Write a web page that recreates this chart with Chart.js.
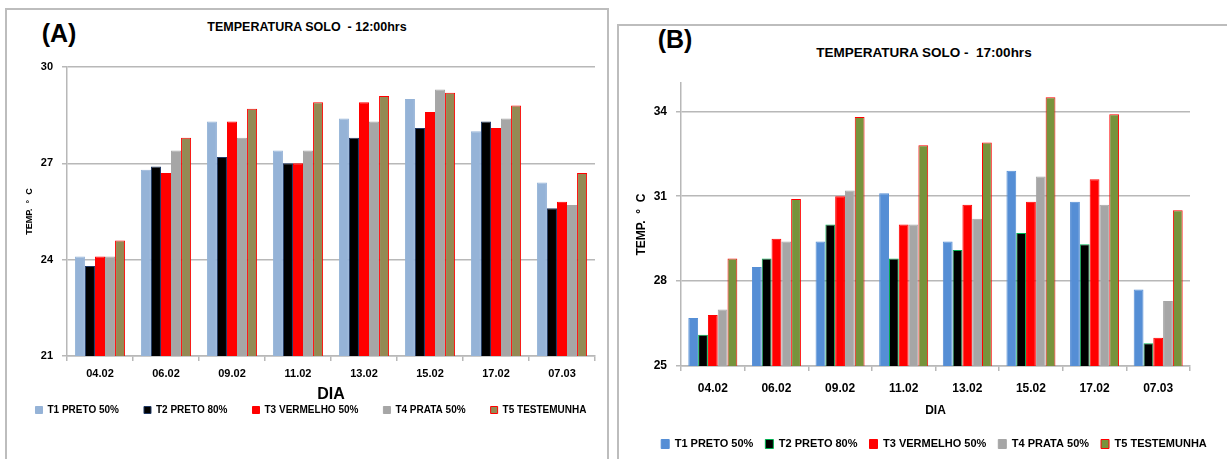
<!DOCTYPE html>
<html>
<head>
<meta charset="utf-8">
<script src="https://cdn.jsdelivr.net/npm/chart.js@4.4.1/dist/chart.umd.min.js"></script>
<style>
  body { margin: 0; width: 1227px; height: 459px; overflow: hidden; background: #fff; position: relative; }
  .panel { position: absolute; box-sizing: border-box; border: 2px solid #bdbdbd; }
  .lbl { position: absolute; font-weight: bold; color: #000; white-space: pre; transform: translate(-50%, -50%); }
  canvas { position: absolute; }
</style>
</head>
<body>
<div class="panel" style="left:5px; top:8px; width:604px; height:470px;"></div>
<div class="panel" style="left:617px; top:24px; width:700px; height:470px;"></div>

<div class="lbl" style="left:59px; top:33px; font:bold 25px 'Liberation Sans';">(A)</div>
<div class="lbl" style="left:307px; top:27px; font:bold 12.5px 'Liberation Sans';">TEMPERATURA SOLO  - 12:00hrs</div>
<div class="lbl" style="left:675px; top:39px; font:bold 25px 'Liberation Sans';">(B)</div>
<div class="lbl" style="left:924px; top:52px; font:bold 13.5px 'Liberation Sans';">TEMPERATURA SOLO -  17:00hrs</div>

<canvas id="chartA" width="620" height="470" style="left:6px; top:9px;"></canvas>
<canvas id="chartB" width="640" height="470" style="left:618px; top:25px;"></canvas>

<script>
// dias de medição
const dias = ["04.02", "06.02", "09.02", "11.02", "13.02", "15.02", "17.02", "07.03"];
const tratamentos = ["T1 PRETO 50%", "T2 PRETO 80%", "T3 VERMELHO 50%", "T4 PRATA 50%", "T5 TESTEMUNHA"];

// (A) 12:00hrs
const t1_12h = [24.1, 26.8, 28.3, 27.4, 28.4, 29.0, 28.0, 26.4];
const t2_12h = [23.8, 26.9, 27.2, 27.0, 27.8, 28.1, 28.3, 25.6];
const t3_12h = [24.1, 26.7, 28.3, 27.0, 28.9, 28.6, 28.1, 25.8];
const t4_12h = [24.1, 27.4, 27.8, 27.4, 28.3, 29.3, 28.4, 25.7];
const t5_12h = [24.6, 27.8, 28.7, 28.9, 29.1, 29.2, 28.8, 26.7];
const ticks_12h = [21, 24, 27, 30];

// (B) 17:00hrs
const t1_17h = [26.7, 28.5, 29.4, 31.1, 29.4, 31.9, 30.8, 27.7];
const t2_17h = [26.1, 28.8, 30.0, 28.8, 29.1, 29.7, 29.3, 25.8];
const t3_17h = [26.8, 29.5, 31.0, 30.0, 30.7, 30.8, 31.6, 26.0];
const t4_17h = [27.0, 29.4, 31.2, 30.0, 30.2, 31.7, 30.7, 27.3];
const t5_17h = [28.8, 30.9, 33.8, 32.8, 32.9, 34.5, 33.9, 30.5];
const ticks_17h = [25, 28, 31, 34];

const gridColor = "#b8b8b8";

function montarGrafico(canvasId, cfg) {
    const datasets = cfg.series.map((valores, i) => ({
        label: tratamentos[i],
        data: valores,
        backgroundColor: cfg.cores[i],
        borderColor: cfg.bordas[i],
        borderWidth: 1,
        barPercentage: 1,
        categoryPercentage: cfg.catPct
    }));

    return new Chart(document.getElementById(canvasId), {
        type: "bar",
        data: { labels: dias, datasets: datasets },
        options: {
            responsive: false,
            animation: false,
            layout: { padding: cfg.padding },
            plugins: {
                title: { display: false },
                tooltip: { enabled: false },
                legend: {
                    position: "bottom",
                    labels: {
                        color: "#000",
                        boxWidth: cfg.box[0],
                        boxHeight: cfg.box[1],
                        padding: cfg.legendPad,
                        font: { family: cfg.font, size: cfg.legendSize, weight: "bold" }
                    }
                }
            },
            scales: {
                x: {
                    grid: { drawOnChartArea: false, tickLength: 5, color: gridColor, lineWidth: 1.5 },
                    border: { color: gridColor, width: 1.5 },
                    ticks: { color: "#000", padding: cfg.xTickPad, font: { family: cfg.font, size: cfg.xTickSize, weight: "bold" } },
                    title: {
                        display: true, text: "DIA", color: "#000",
                        font: { family: cfg.font, size: cfg.diaSize, weight: "bold" },
                        padding: { top: 0, bottom: cfg.diaPad }
                    },
                    afterFit: (s) => { s.height = cfg.xHeight; }
                },
                y: {
                    min: cfg.min, max: cfg.max,
                    grid: { tickLength: 5, color: gridColor, lineWidth: 1.5 },
                    border: { color: gridColor, width: 1.5 },
                    ticks: { color: "#000", padding: 9, font: { family: cfg.font, size: cfg.yTickSize, weight: "bold" } },
                    afterBuildTicks: (axis) => { axis.ticks = cfg.ticks.map(v => ({ value: v })); },
                    title: {
                        display: true, text: "TEMP.  °  C", color: "#000",
                        font: { family: cfg.font, size: cfg.yTitleSize, weight: "bold" },
                        padding: { top: cfg.yTitlePad, bottom: 0 }
                    },
                    afterFit: (s) => { s.width = cfg.yWidth; }
                },
                // eixo vazio só para centrar a legenda como no original
                yR: {
                    position: "right",
                    grid: { display: false },
                    border: { display: false },
                    ticks: { display: false },
                    afterFit: (s) => { s.width = cfg.rightWidth; }
                }
            }
        }
    });
}

/* ===== (A) 12:00hrs ===== */
montarGrafico("chartA", {
    series: [t1_12h, t2_12h, t3_12h, t4_12h, t5_12h],
    cores: ["#95B3D7", "#000000", "#FF0000", "#A6A6A6", "#948A54"],
    bordas: ["#95B3D7", "#1F3864", "#FF0000", "#A6A6A6", "#FF0000"],
    catPct: 0.76,
    font: "'Liberation Sans', Arial, sans-serif",
    padding: { left: 0, right: 10, top: 58, bottom: 54 },
    box: [7, 7], legendPad: 25, legendSize: 10,
    xTickPad: 6, xTickSize: 11, diaSize: 16, diaPad: -24.6, xHeight: 24,
    min: 21, max: 30, ticks: ticks_12h, yTickSize: 11,
    yTitleSize: 9, yTitlePad: 18.6, yWidth: 61, rightWidth: 21
});

/* ===== (B) 17:00hrs ===== */
montarGrafico("chartB", {
    series: [t1_17h, t2_17h, t3_17h, t4_17h, t5_17h],
    cores: ["#558ED5", "#000000", "#FF0000", "#A6A6A6", "#77933C"],
    bordas: ["#558ED5", "#00B050", "#FF0000", "#A6A6A6", "#FF0000"],
    catPct: 0.77,
    font: "'Liberation Sans', Arial, sans-serif",
    padding: { left: 0, right: 8, top: 58, bottom: 35.5 },
    box: [8, 9], legendPad: 12, legendSize: 11,
    xTickPad: 10.4, xTickSize: 12, diaSize: 12, diaPad: 8.3, xHeight: 60.5,
    min: 25, max: 35, ticks: ticks_17h, yTickSize: 12,
    yTitleSize: 12, yTitlePad: 16.8, yWidth: 63, rightWidth: 60
});
</script>
</body>
</html>
